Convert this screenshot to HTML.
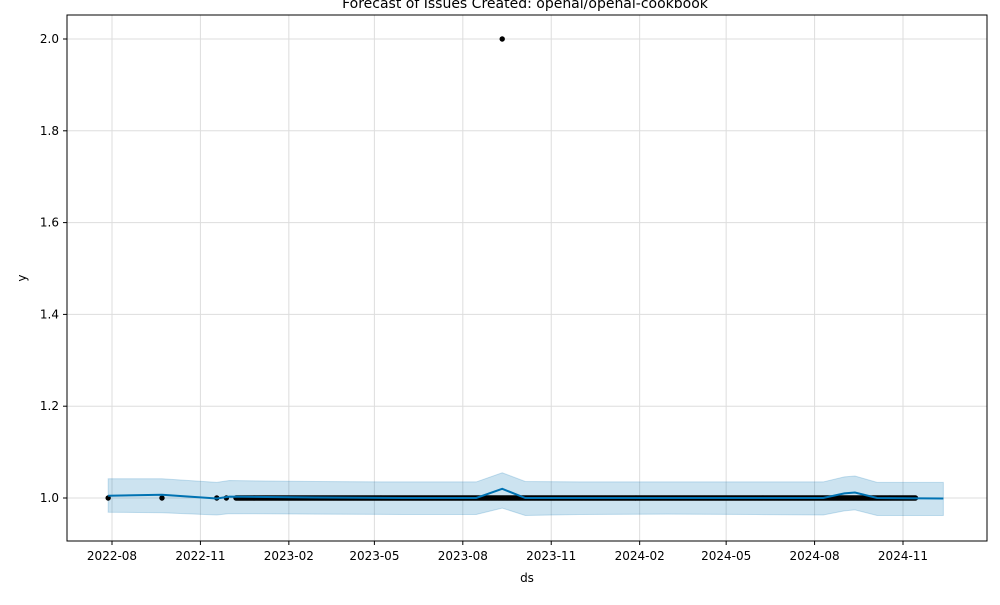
<!DOCTYPE html>
<html><head><meta charset="utf-8"><style>
body{margin:0;background:#fff;font-family:"Liberation Sans","DejaVu Sans",sans-serif}
svg text{font-family:"DejaVu Sans","Liberation Sans",sans-serif;font-size:12px;fill:#000}
</style></head><body>
<svg id="c" width="1000" height="600"></svg>
<script>
// data
const xTickLabels=["2022-08","2022-11","2023-02","2023-05","2023-08","2023-11","2024-02","2024-05","2024-08","2024-11"];
const yTickValues=[1.0,1.2,1.4,1.6,1.8,2.0];
const sparseObsDates=["2022-07-28","2022-09-22","2022-11-18","2022-11-28"];
const sparseObsValues=[1,1,1,1];
const denseObsStart="2022-12-08";
const denseObsEnd="2024-11-14";
const denseObsValue=1;
const outlierDate="2023-09-11";
const outlierValue=2;
const fcDates=["2022-07-28","2022-09-22","2022-11-18","2022-12-01","2023-03-01","2023-06-01","2023-08-15","2023-09-11","2023-10-05","2023-12-01","2024-03-01","2024-06-01","2024-08-10","2024-09-01","2024-09-12","2024-10-05","2024-12-13"];
const fcYhat=[1.005,1.007,0.999,1.003,1.001,1.0,1.0,1.02,1.0,1.0,1.0,1.0,1.0,1.01,1.012,1.0,0.999];
const fcLower=[0.969,0.968,0.963,0.966,0.965,0.964,0.964,0.978,0.962,0.964,0.965,0.964,0.963,0.972,0.974,0.962,0.962];
const fcUpper=[1.042,1.042,1.034,1.038,1.036,1.035,1.035,1.055,1.036,1.035,1.035,1.035,1.035,1.046,1.048,1.034,1.034];

const NS="http://www.w3.org/2000/svg";
const svg=document.getElementById('c');
const L=67,R=987,T=15,B=541;
const base=Date.parse("2022-08-01");
const day=d=>(Date.parse(d)-base)/86400000;
const X=d=>112+day(d)*(903-112)/day("2024-11-01");
const Y=v=>498-(v-1)*459;
function el(t,a,p){const e=document.createElementNS(NS,t);for(const k in a)e.setAttribute(k,a[k]);(p||svg).appendChild(e);return e;}
// grid
xTickLabels.forEach(l=>{const x=X(l+"-01");
 const g=el('line',{x1:x,x2:x,y1:T,y2:B,stroke:'#ddd','stroke-width':1});
 
 
 el('line',{x1:x,x2:x,y1:B,y2:B+4,stroke:'#000'});
 const t=el('text',{x:x,y:B+19,'text-anchor':'middle'});t.textContent=l;
 
 
});
yTickValues.forEach(v=>{const y=Y(v);
 const g=el('line',{x1:L,x2:R,y1:y,y2:y,stroke:'#ddd','stroke-width':1});
 
 
 el('line',{x1:L-4,x2:L,y1:y,y2:y,stroke:'#000'});
 const t=el('text',{x:L-8,y:y+4,'text-anchor':'end'});t.textContent=v.toFixed(1);
 
 
});
// band
let d="M"+fcDates.map((dt,i)=>X(dt)+","+Y(fcUpper[i])).join("L");
for(let i=fcDates.length-1;i>=0;i--)d+="L"+X(fcDates[i])+","+Y(fcLower[i]);
const band=el('path',{d:d+"Z",fill:'#0072B2','fill-opacity':0.2,stroke:'#0072B2','stroke-opacity':0.2});


// observations
const pts=el('g',{});


sparseObsDates.forEach((dt,i)=>el('circle',{cx:X(dt),cy:Y(sparseObsValues[i]),r:2.7,fill:'#000'},pts));
for(let t=Date.parse(denseObsStart);t<=Date.parse(denseObsEnd);t+=86400000){
 const ds=new Date(t).toISOString().slice(0,10);
 el('circle',{cx:X(ds),cy:Y(denseObsValue),r:2.7,fill:'#000'},pts);
}
el('circle',{cx:X(outlierDate),cy:Y(outlierValue),r:2.7,fill:'#000'},pts);
// forecast line
const line=el('path',{d:"M"+fcDates.map((dt,i)=>X(dt)+","+Y(fcYhat[i])).join("L"),fill:'none',stroke:'#0072B2','stroke-width':2});


// axes
el('path',{d:`M${L},${T}V${B}H${R}V${T}Z`,fill:'none',stroke:'#000','stroke-width':1});
const xt=el('text',{x:(L+R)/2,y:582,'text-anchor':'middle'});xt.textContent='ds';

const yt=el('text',{x:26,y:278,'text-anchor':'middle',transform:'rotate(-90 26 278)'});yt.textContent='y';

const ti=el('text',{x:525,y:8,'text-anchor':'middle'});ti.textContent='Forecast of Issues Created: openai/openai-cookbook';
ti.setAttribute('style','font-size:14px');

</script></body></html>
